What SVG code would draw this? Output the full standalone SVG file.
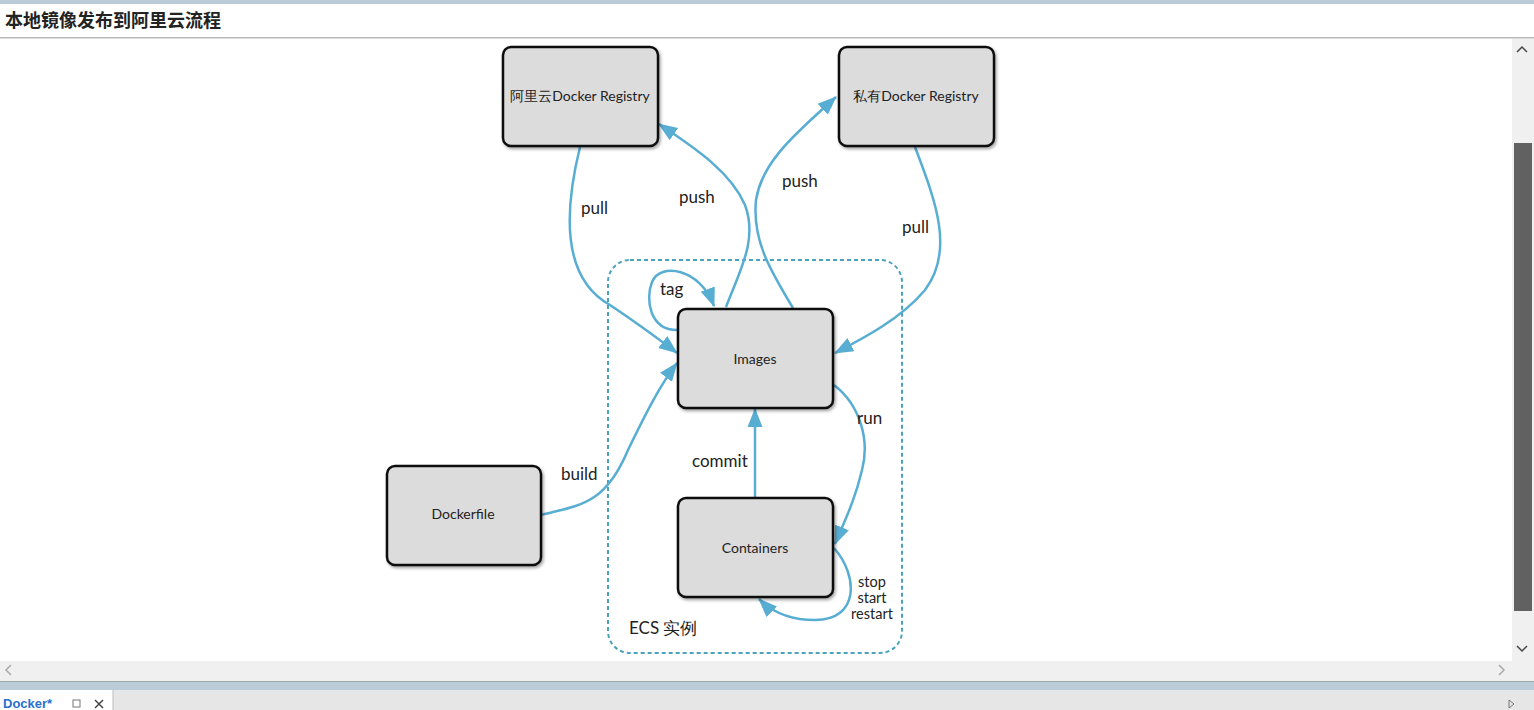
<svg xmlns="http://www.w3.org/2000/svg" width="1534" height="710" viewBox="0 0 1534 710">
<style>
.node rect{fill:#dcdcdc;stroke:#111;stroke-width:2.5}
.nt{font-family:"Lato","Liberation Sans",sans-serif;font-size:14px;fill:#222;text-anchor:middle}
.lbl{font-family:"Lato","Liberation Sans",sans-serif;font-size:17px;fill:#222}
.sm{font-family:"Lato","Liberation Sans",sans-serif;font-size:14.5px;fill:#222;text-anchor:middle}
.c path{fill:none;stroke:#58add3;stroke-width:2.5}
</style>
<defs>
<marker id="ah" markerUnits="userSpaceOnUse" markerWidth="20" markerHeight="18" viewBox="0 0 20 18" refX="18" refY="9" orient="auto">
<path d="M0,1.5 L19,9 L0,16.5 Z" fill="#58add3"/>
</marker>
<filter id="sh" x="-10%" y="-10%" width="130%" height="130%">
<feDropShadow dx="1.5" dy="2" stdDeviation="1.5" flood-color="#000" flood-opacity="0.35"/>
</filter>
</defs>
<rect width="1534" height="710" fill="#ffffff"/>
<rect x="0" y="0" width="1534" height="4" fill="#bccbd8"/>
<text x="5" y="27" font-family="'Noto Sans CJK SC',serif" font-weight="bold" font-size="18" fill="#222">本地镜像发布到阿里云流程</text>
<rect x="0" y="37" width="1534" height="1.5" fill="#b8b8b8"/>
<!-- scrollbars -->
<rect x="1512" y="39" width="22" height="622" fill="#f0f0f0"/>
<rect x="1514" y="143" width="18" height="468" fill="#616161"/>
<path d="M1517,52 L1522,47 L1527,52" fill="none" stroke="#444" stroke-width="1.5"/>
<path d="M1517,646 L1522,651 L1527,646" fill="none" stroke="#444" stroke-width="1.5"/>
<rect x="0" y="661" width="1534" height="20" fill="#f0f0f0"/>
<path d="M11,665 L6,670 L11,675" fill="none" stroke="#aaa" stroke-width="1.5"/>
<path d="M1499,665 L1504,670 L1499,675" fill="none" stroke="#aaa" stroke-width="1.5"/>
<rect x="0" y="681" width="1534" height="9" fill="#bccbd8"/>
<rect x="0" y="681" width="1534" height="1" fill="#9aa"/>
<rect x="0" y="690" width="1534" height="20" fill="#e6e6e6"/>
<rect x="0" y="690" width="113" height="20" fill="#ffffff"/>
<line x1="113" y1="690" x2="113" y2="710" stroke="#bbb"/>
<text x="3" y="708" font-family="'Liberation Sans',sans-serif" font-weight="bold" font-size="13" fill="#2a6fd0">Docker*</text>
<rect x="73" y="700" width="7" height="7" fill="none" stroke="#777" stroke-width="1"/>
<path d="M95,700 L103,708 M103,700 L95,708" stroke="#444" stroke-width="1.5"/>
<path d="M1509,700 L1514,704 L1509,708 Z" fill="none" stroke="#777"/>
<!-- ECS container -->
<rect id="ecs" x="608" y="260" width="294" height="393" rx="22" fill="none" stroke="#4aa3bd" stroke-width="2" stroke-dasharray="4,3"/>
<text class="lbl" x="629" y="634">ECS 实例</text>
<!-- connectors -->
<g id="connectors" class="c">
<path d="M580,147 C 562,220 565,280 610,305 C 640,325 660,340 677,353" marker-end="url(#ah)"/>
<path d="M726,307 C 740,270 758,240 745,205 C 730,170 690,145 659,124" marker-end="url(#ah)"/>
<path d="M793,308 C 770,270 752,240 756,200 C 762,160 800,130 836,97" marker-end="url(#ah)"/>
<path d="M915,147 C 935,200 955,250 925,290 C 900,320 860,340 835,353" marker-end="url(#ah)"/>
<path d="M677,330 C 650,330 645,300 652,282 C 660,262 700,268 714,306" marker-end="url(#ah)"/>
<path d="M541,515 C 580,505 605,505 628,450 C 645,415 660,385 677,363" marker-end="url(#ah)"/>
<path d="M755,497 L755,409" marker-end="url(#ah)"/>
<path d="M834,385 C 860,405 870,440 862,470 C 855,500 845,520 835,544" marker-end="url(#ah)"/>
<path d="M834,548 C 858,575 860,620 815,620 C 790,620 772,612 759,599" marker-end="url(#ah)"/>
</g>
<g id="labels">
<text class="lbl" x="581" y="214">pull</text>
<text class="lbl" x="679" y="203">push</text>
<text class="lbl" x="782" y="187">push</text>
<text class="lbl" x="902" y="233">pull</text>
<text class="lbl" x="660" y="295">tag</text>
<text class="lbl" x="561" y="480">build</text>
<text class="lbl" x="692" y="467">commit</text>
<text class="lbl" x="857" y="424">run</text>
<text class="sm" x="872" y="587">stop</text>
<text class="sm" x="872" y="603">start</text>
<text class="sm" x="872" y="619">restart</text>
</g>
<g id="n-aliyun" class="node"><rect x="503" y="47" width="155" height="99" rx="8" filter="url(#sh)"/><text class="nt" x="580" y="101">阿里云Docker Registry</text></g>
<g id="n-private" class="node"><rect x="839" y="47" width="155" height="99" rx="8" filter="url(#sh)"/><text class="nt" x="916" y="101">私有Docker Registry</text></g>
<g id="n-images" class="node"><rect x="678" y="309" width="155" height="99" rx="8" filter="url(#sh)"/><text class="nt" x="755" y="364">Images</text></g>
<g id="n-dockerfile" class="node"><rect x="387" y="466" width="154" height="99" rx="8" filter="url(#sh)"/><text class="nt" x="463" y="519">Dockerfile</text></g>
<g id="n-containers" class="node"><rect x="678" y="498" width="155" height="99" rx="8" filter="url(#sh)"/><text class="nt" x="755" y="553">Containers</text></g>
</svg>
